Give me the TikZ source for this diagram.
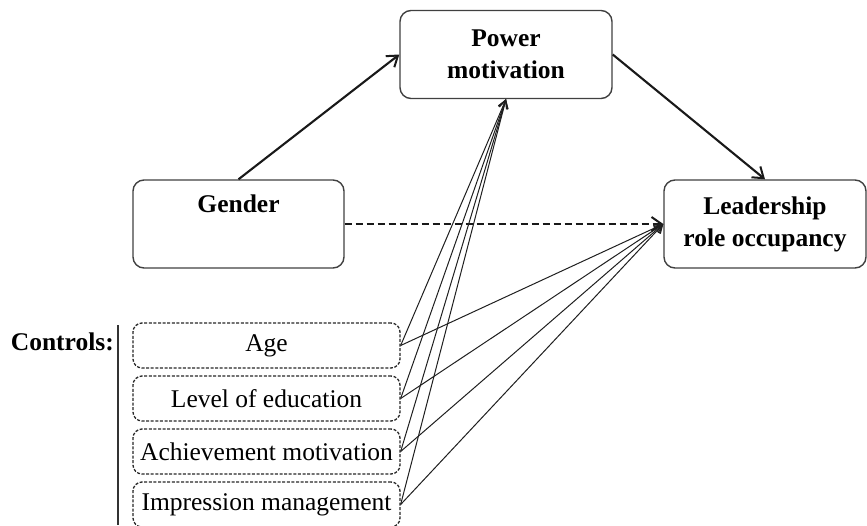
\documentclass[tikz,border=0pt]{standalone}
\usepackage{fontspec}
\setmainfont{Liberation Serif}
\usetikzlibrary{arrows.meta}
\tikzset{
  mainbox/.style={draw=black!75, line width=1.4pt, rounded corners=11pt,
    inner sep=0pt, align=center, font=\bfseries\fontsize{25.5}{32}\selectfont},
  ctrlbox/.style={draw=black!85, line width=1.3pt, rounded corners=9pt,
    dash pattern=on 3pt off 1.6pt, inner sep=0pt, minimum width=267pt,
    minimum height=45pt, font=\fontsize{25.5}{30}\selectfont},
  patharrow/.style={line width=2.1pt, draw=black!90,
    -{Straight Barb[length=10pt,width=14pt,line width=2pt]}},
  ctrlarrow/.style={line width=1pt, draw=black!88,
    -{Straight Barb[length=8pt,width=9pt,line width=1.1pt]}}
}
\begin{document}
\begin{tikzpicture}[x=1pt,y=-1pt]
\useasboundingbox (0,0) rectangle (867,525);

% main variables
\node[mainbox, minimum width=212pt, minimum height=88pt] (power) at (506,54.5) {Power\\motivation};
\node[mainbox, minimum width=211pt, minimum height=88pt] (gender) at (238.5,224) {Gender\\\strut};
\node[mainbox, minimum width=202pt, minimum height=88pt] (lead) at (765,224) {Leadership\\role occupancy};

% control variables
\node[font=\bfseries\fontsize{25.5}{30}\selectfont, anchor=base east, inner sep=0pt] (ctrllabel) at (114,350) {Controls:};
\coordinate (bartop) at (118,325);
\coordinate (barbot) at (118,525);
\draw[line width=1.3pt, black!80] (bartop) -- (barbot);

\node[ctrlbox] (age) at (266.5,345.5) {Age};
\node[ctrlbox] (edu) at (266.5,398.5) {Level of education};
\node[ctrlbox] (ach) at (266.5,451.5) {Achievement motivation};
\node[ctrlbox] (imp) at (266.5,504.5) {Impression management};

% hypothesised paths
\draw[patharrow] (gender.north) -- (power.west);
\draw[patharrow] (power.east) -- (lead.north);
\draw[patharrow, dashed, dash pattern=on 7pt off 4pt] (gender.east) -- (lead.west);

% paths from the controls
\foreach \c in {age,edu,ach,imp}{
  \draw[ctrlarrow] (\c.east) -- (power.south);
  \draw[ctrlarrow] (\c.east) -- (lead.west);
}
\end{tikzpicture}
\end{document}
